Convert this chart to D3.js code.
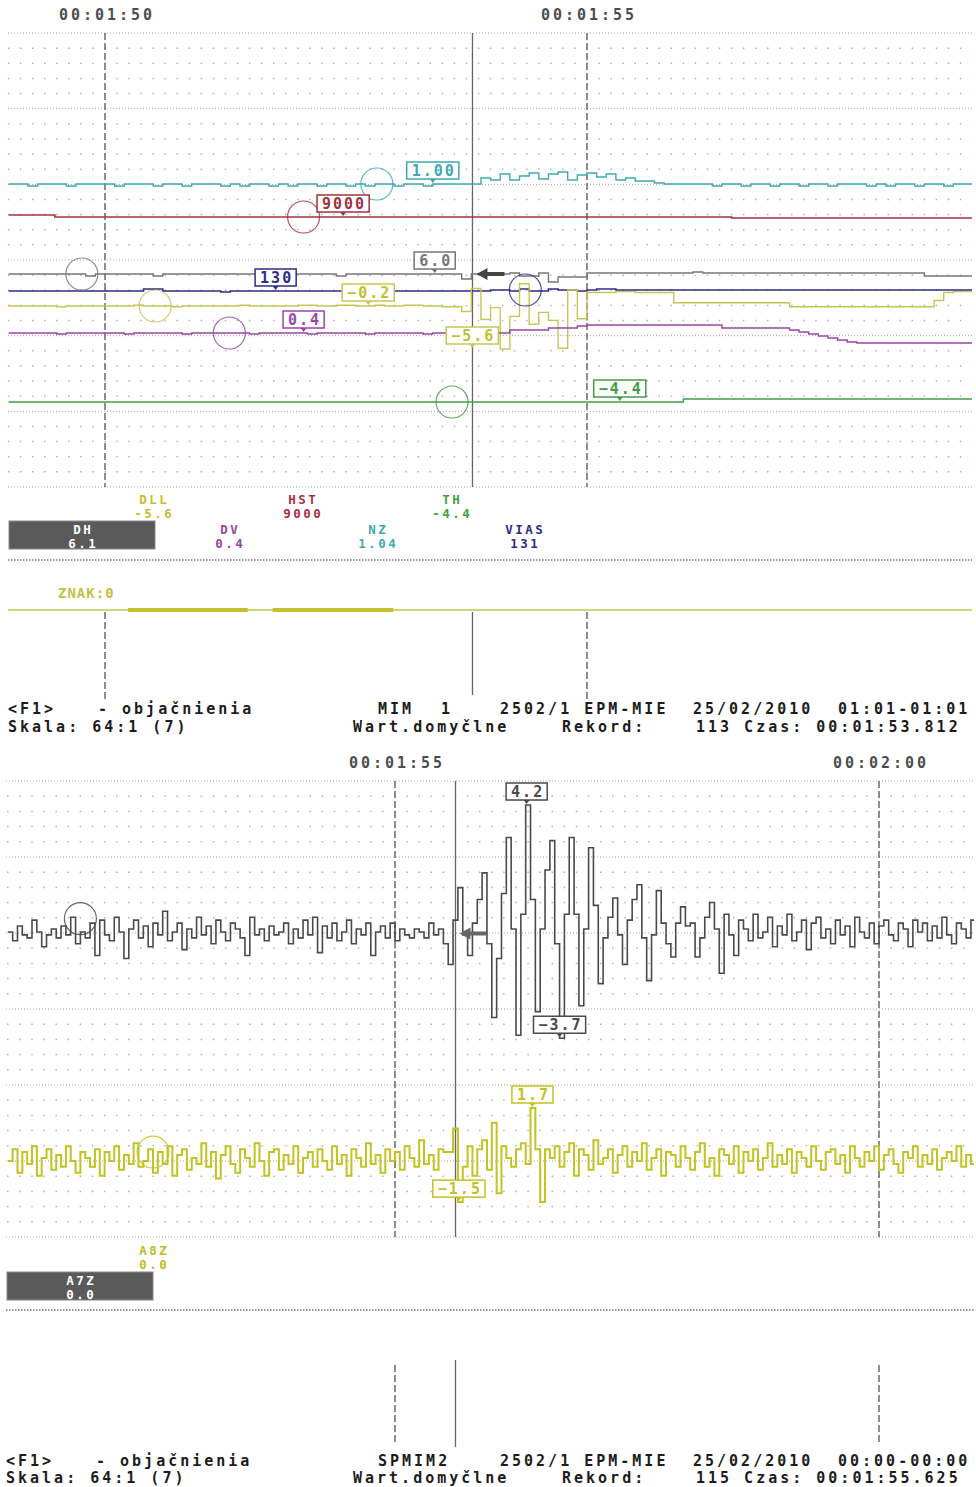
<!DOCTYPE html>
<html>
<head>
<meta charset="utf-8">
<script src="https://cdn.jsdelivr.net/npm/d3@7"></script>
<style>
  body { margin: 0; background: #fff; }
  svg { display: block; }
  text { font-family: "DejaVu Sans Mono", "Liberation Mono", monospace; font-weight: bold; }
</style>
</head>
<body>
<svg id="chart" width="976" height="1487"></svg>
<script>
// ---------- data ----------
const topTicks = [110, 115];
const bottomTicks = [115, 120];
const topCursor = 113.812;
const bottomCursor = 115.625;

// top panel, sampled every 0.1 s from 109.0 s
const topT0 = 109.0, topDt = 0.1;
const nzValues = [
  1.00,1.00,0.98,1.00,1.00,1.00,0.98,1.00,1.00,1.00,
  1.00,0.98,1.00,1.00,1.00,0.98,1.00,1.00,0.98,1.00,
  1.00,1.00,0.98,1.00,0.98,1.00,1.00,0.98,1.00,0.98,
  1.00,1.00,0.98,1.00,1.00,0.98,1.00,0.98,1.00,1.00,
  0.98,1.00,1.00,0.98,1.00,1.00,1.00,1.00,1.00,1.06,
  1.04,1.10,1.04,1.08,1.11,1.05,1.10,1.12,1.04,1.09,
  1.11,1.07,1.10,1.04,1.06,1.03,1.03,1.01,1.00,1.00,
  1.00,1.00,1.00,0.98,1.00,1.00,0.98,1.00,1.00,0.98,
  1.00,1.00,0.98,1.00,1.00,0.98,1.00,1.00,1.00,0.98,
  1.00,0.98,1.00,1.00,0.98,1.00,1.00,0.98,1.00,1.00,1.00
];
const dhValues = [
  6.0,6.0,6.0,6.0,6.0,6.0,6.0,6.0,5.8,6.0,
  6.0,6.0,6.0,6.0,6.0,5.8,6.0,6.0,6.0,6.0,
  6.0,6.0,6.0,6.0,6.0,6.0,5.8,6.0,6.0,6.0,
  6.0,6.0,6.0,6.0,5.8,6.0,6.0,6.0,6.0,6.0,
  6.0,6.0,6.0,6.0,6.0,6.0,6.0,5.5,6.0,6.0,
  5.9,6.0,6.1,5.8,5.8,6.1,5.2,5.7,5.7,5.7,
  6.1,6.1,6.1,6.1,6.1,6.1,6.1,6.1,6.1,6.1,
  6.1,6.2,6.1,6.1,6.1,6.1,6.1,6.1,6.1,6.1,
  6.1,6.1,6.1,6.1,6.1,6.1,6.1,6.1,6.1,6.1,
  6.1,6.1,6.1,6.1,6.1,5.8,5.8,5.8,5.8,5.8,5.8
];
const viasValues = [
  130,130,130,130,130,130,130,130,130,130,
  130,130,130,130,131,131,130,130,130,130,
  130,130,129.5,130,130,130,130,130,130,130,
  130,130,130,130,130,130,130,130,130,130,
  130,130,130,130,130,130,130,130,130,130,
  130.5,130.5,130,131,130,130,131,130.5,130.5,130,
  130.5,131,131,130.5,130.5,130.5,130.5,130.5,130.5,130.5,
  130.5,130.5,130.5,130.5,130.5,130.5,130.5,130.5,130.5,130.5,
  130.5,130.5,130.5,130.5,130.5,130.5,130.5,130.5,130.5,130.5,
  130.5,130.5,130.5,130.5,130.5,130.5,130.5,130.5,130.5,130.5,130.5
];
const dllValues = [
  -0.2,-0.2,-0.2,-0.2,-0.2,-0.3,-0.2,-0.2,-0.2,-0.2,
  -0.2,-0.2,-0.2,-0.1,-0.2,-0.2,-0.2,-0.3,-0.2,-0.2,
  -0.2,-0.2,-0.2,-0.2,-0.1,-0.2,-0.2,-0.2,-0.2,-0.2,
  -0.1,-0.1,-0.2,-0.2,-0.1,-0.1,-0.2,-0.2,-0.1,-0.2,
  -0.2,-0.1,-0.1,-0.2,-0.2,-0.3,-0.3,-0.9,2.0,-1.9,
  -0.4,-5.6,-1.5,2.6,-2.5,-1.0,-2.0,-5.5,1.8,-1.8,
  1.5,1.5,1.5,1.6,1.6,1.5,1.5,1.5,1.5,0.2,
  0.2,0.2,0.2,0.2,0.2,0.2,0.2,0.2,0.2,0.2,
  0.2,-0.3,-0.3,-0.3,-0.3,-0.3,-0.3,-0.3,-0.3,-0.3,
  -0.3,-0.3,-0.3,-0.3,-0.3,-0.3,0.5,1.5,1.6,1.6,1.6
];
const dvValues = [
  0.4,0.4,0.4,0.4,0.4,0.3,0.4,0.4,0.4,0.4,
  0.4,0.4,0.3,0.4,0.4,0.4,0.4,0.4,0.3,0.4,
  0.4,0.4,0.4,0.4,0.4,0.3,0.4,0.4,0.4,0.4,
  0.4,0.3,0.4,0.4,0.4,0.4,0.4,0.3,0.4,0.4,
  0.4,0.4,0.4,0.3,0.4,0.4,0.4,0.4,0.4,0.4,
  0.4,0.4,0.7,0.7,0.7,0.7,0.9,0.9,0.9,1.1,
  1.2,1.2,1.2,1.2,1.2,1.2,1.2,1.2,1.2,1.2,
  1.2,1.2,1.2,1.2,0.9,0.9,0.9,0.9,0.9,0.9,
  0.9,0.7,0.5,0.3,0.1,-0.1,-0.3,-0.5,-0.6,-0.6,
  -0.6,-0.6,-0.6,-0.6,-0.6,-0.6,-0.6,-0.6,-0.6,-0.6,-0.6
];
// change-point channels
const hstTimes = [109.0, 109.48, 116.5, 119.0];
const hstValues = [9020, 9000, 8990, 8990];
const thTimes = [109.0, 116.0, 119.0];
const thValues = [-4.4, -4.1, -4.1];
// ZNAK on-periods
const znakStart = [110.24, 111.74];
const znakEnd = [111.48, 112.99];

// bottom panel, sampled every 0.05 s from 111.0 s
const botT0 = 111.0, botDt = 0.05;
const a7zValues = [
  -0.1,-0.4,0.1,-0.2,-0.3,0.3,-0.1,-0.6,-0.2,0.0,
  -0.3,0.1,-0.2,0.4,-0.5,-0.1,-0.3,0.2,-0.9,0.3,
  -0.2,-0.4,0.4,-0.1,-1.0,0.0,0.3,-0.3,0.1,-0.6,
  0.2,-0.2,0.6,-0.4,-0.1,0.2,-0.7,0.0,-0.3,0.4,
  -0.2,0.1,-0.5,0.3,-0.1,-0.4,0.2,0.0,-0.3,-0.9,
  0.4,-0.2,0.0,-0.4,0.1,-0.2,-0.1,0.2,-0.5,0.0,
  -0.3,0.3,-0.2,0.4,-0.8,0.1,-0.3,0.2,-0.4,-0.1,
  0.3,-0.5,0.0,-0.2,0.2,-0.9,-0.1,0.1,-0.3,0.2,
  -0.4,0.0,-0.2,-0.3,0.0,-0.1,-0.3,0.2,-0.2,0.0,
  -0.5,
  -1.2,0.3,1.4,-0.2,-0.9,0.2,1.0,1.9,-0.5,
  -3.0,-1.0,1.2,3.1,0.0,-3.6,0.5,4.2,1.0,-2.8,
  0.0,2.0,3.0,-0.5,-3.7,0.5,3.1,0.5,-2.6,0.0,
  2.75,0.8,-1.85,-0.3,0.4,1.05,-0.2,-1.2,0.3,1.0,
  1.5,-0.3,-1.75,-0.2,1.3,0.2,-0.5,-0.95,0.2,0.75,
  0.1,
  0.2,-0.95,-0.3,0.4,0.9,0.0,-1.5,0.5,-0.2,-0.9,
  0.3,0.0,-0.4,0.5,-0.3,-0.1,0.4,-0.6,0.1,-0.2,
  0.5,-0.4,-0.1,0.3,-0.7,0.2,0.4,-0.3,0.0,-0.5,
  0.3,-0.2,0.1,-0.6,0.4,-0.1,-0.3,0.2,-0.5,0.1,
  0.3,-0.2,-0.4,0.2,0.0,-0.6,0.3,-0.1,0.2,-0.4,
  0.1,-0.3,0.4,-0.2,-0.5,0.2,0.0,-0.3,0.3,-0.1
];
const a8zValues = [
  -0.1,0.3,-0.5,0.2,-0.2,0.4,-0.6,0.0,0.3,-0.4,
  0.1,-0.3,0.4,-0.1,-0.5,0.2,0.0,-0.3,0.3,-0.6,
  0.2,-0.1,0.4,-0.4,0.1,-0.2,0.5,-0.3,-0.1,0.3,
  -0.5,0.2,-0.2,0.4,-0.6,0.1,0.3,-0.4,0.0,-0.2,
  0.5,-0.3,0.2,-0.7,0.1,0.4,-0.2,-0.5,0.3,0.0,
  -0.3,0.5,-0.1,-0.6,0.2,0.3,-0.4,0.1,-0.2,0.4,
  -0.5,0.0,0.2,-0.3,0.3,-0.1,-0.4,0.4,-0.2,0.1,
  -0.6,0.3,0.0,-0.3,0.5,-0.2,0.1,-0.5,0.3,-0.1,
  0.2,-0.4,0.4,0.0,-0.3,0.6,-0.2,0.1,-0.4,0.3,
  0.2,
  0.2,1.0,-1.5,-0.3,0.4,-0.6,0.3,0.6,-0.4,
  1.2,-1.2,0.4,0.0,-0.3,0.3,0.5,-0.2,1.7,0.3,
  -1.5,0.3,0.0,0.4,-0.3,0.2,0.5,-0.6,0.3,0.1,
  -0.4,0.6,-0.2,0.0,0.3,-0.5,0.1,0.4,-0.3,0.2,
  -0.1,0.5,-0.4,0.0,0.3,-0.6,0.2,0.1,-0.3,0.4,
  0.0,
  -0.4,0.2,0.5,-0.3,0.0,-0.6,0.3,0.1,-0.2,0.4,
  -0.5,0.2,-0.1,0.3,-0.4,0.0,0.5,-0.3,0.1,-0.2,
  0.3,-0.5,0.2,0.0,-0.3,0.4,-0.1,-0.4,0.2,0.3,
  -0.2,0.1,-0.5,0.4,0.0,-0.3,0.2,-0.1,0.4,-0.4,
  0.1,0.3,-0.2,-0.5,0.2,0.0,0.4,-0.3,0.1,-0.2,
  0.3,-0.4,0.0,0.2,-0.1,0.4,-0.3,0.1,-0.2,0.2
];

// legends (name / value at cursor)
const topLegendNames = ['DLL', 'HST', 'TH', 'DH', 'DV', 'NZ', 'VIAS'];
const topLegendValues = ['-5.6', '9000', '-4.4', '6.1', '0.4', '1.04', '131'];
const botLegendNames = ['A8Z', 'A7Z'];
const botLegendValues = ['0.0', '0.0'];

// value flags and rings
const topMarkers = [
  { ch: 'NZ', t: 113.40, v: 1.00 }, { ch: 'HST', t: 112.47, v: 9000 },
  { ch: 'VIAS', t: 111.77, v: 130 }, { ch: 'DH', t: 113.42, v: 6.0 },
  { ch: 'DLL', t: 112.73, v: -0.2 }, { ch: 'DV', t: 112.06, v: 0.4 },
  { ch: 'DLL', t: 113.81, v: -5.6 }, { ch: 'TH', t: 115.34, v: -4.4 }
];
const botMarkers = [
  { ch: 'A7Z', t: 116.36, v: 4.2 }, { ch: 'A7Z', t: 116.70, v: -3.7 },
  { ch: 'A8Z', t: 116.42, v: 1.7 }, { ch: 'A8Z', t: 115.66, v: -1.5 }
];
const topRings = [
  { ch: 'DH', t: 109.76, v: 6.0 }, { ch: 'HST', t: 112.06, v: 9000 },
  { ch: 'NZ', t: 112.82, v: 1.00 }, { ch: 'DLL', t: 110.52, v: -0.2 },
  { ch: 'DV', t: 111.29, v: 0.4 }, { ch: 'VIAS', t: 114.36, v: 130.5 },
  { ch: 'TH', t: 113.60, v: -4.4 }
];
const botRings = [
  { ch: 'A7Z', t: 111.75, v: 0.35 }, { ch: 'A8Z', t: 112.50, v: 0.2 }
];

const footerTop = [
  ['<F1>', '- objačnienia', 'MIM', '1', '2502/1 EPM-MIE', '25/02/2010', '01:01-01:01'],
  ['Skala: 64:1 (7)', 'Wart.domyčlne', 'Rekord:', '113 Czas: 00:01:53.812']
];
const footerBottom = [
  ['<F1>', '- objačnienia', 'SPMIM2', '2502/1 EPM-MIE', '25/02/2010', '00:00-00:00'],
  ['Skala: 64:1 (7)', 'Wart.domyčlne', 'Rekord:', '115 Czas: 00:01:55.625']
];

// ---------- helpers ----------
const sampled = (t0, dt, values) => values.map((v, i) => ({ t: t0 + i * dt, v }));
const changes = (times, values) => times.map((t, i) => ({ t, v: values[i] }));
const fmtTime = t => d3.utcFormat('%H:%M:%S')(new Date(Math.round(t * 1000)));

const svg = d3.select('#chart');
const gridColor = '#bfaeae';

const colors = {
  NZ: '#3fa9b3', HST: '#a3323f', DH: '#777777', VIAS: '#2d2d85',
  DLL: '#c6c655', DV: '#9a45a5', TH: '#449c44', A7Z: '#4a4a4a', A8Z: '#c2c222'
};
const textColors = Object.assign({}, colors, { DLL: '#c2c030', A8Z: '#bdbd20', DH: '#ffffff', A7Z: '#ffffff' });
const fmt = { NZ: d3.format('.2f'), HST: d3.format('d'), VIAS: d3.format('d') };
const fmtVal = (ch, v) => (fmt[ch] || d3.format('.1f'))(v);

function txt(g, str, x, y, size, color, spacing, anchor) {
  return g.append('text')
    .attr('x', x + (anchor === 'middle' ? spacing / 2 : 0)).attr('y', y)
    .attr('font-size', size).attr('letter-spacing', spacing)
    .attr('text-anchor', anchor || 'start')
    .attr('fill', color).text(str);
}

function drawPanel(cfg) {
  const g = svg.append('g');
  const x = d3.scaleLinear().domain(cfg.domain).range(cfg.xRange);
  const [left, right] = cfg.clip;
  const clipId = 'clip' + cfg.id;
  svg.append('clipPath').attr('id', clipId).append('rect')
    .attr('x', left).attr('y', cfg.gridTop - 30).attr('width', right - left).attr('height', cfg.gridBottom - cfg.gridTop + 60);

  // time labels
  const ax = g.append('g').attr('transform', `translate(1.5,${cfg.labelY})`)
    .call(d3.axisTop(x).tickValues(cfg.ticks).tickFormat(fmtTime).tickSize(0).tickPadding(0));
  ax.select('.domain').remove();
  ax.selectAll('text').attr('font-size', 15).attr('letter-spacing', 3).attr('fill', '#4d4d4d')
    .attr('font-family', '"DejaVu Sans Mono", monospace').attr('font-weight', 'bold').attr('dy', 0);

  // dotted grid
  const rowY = d3.scaleLinear().domain([0, 30]).range([cfg.gridTop, cfg.gridBottom]);
  const step = x(cfg.domain[0] + 0.125) - x(cfg.domain[0]);
  g.append('g').selectAll('line').data(d3.range(31)).join('line')
    .attr('x1', d => d % 5 === 0 ? left : x(cfg.domain[0]) - 0.75)
    .attr('x2', right)
    .attr('y1', d => rowY(d)).attr('y2', d => rowY(d))
    .attr('stroke', d => d % 5 === 0 ? '#b0a0a0' : gridColor)
    .attr('stroke-width', d => d % 5 === 0 ? 1 : 1.5)
    .attr('stroke-dasharray', d => d % 5 === 0 ? '1,2' : `1.5,${step - 1.5}`);

  // 5 s dashed lines and cursor
  const vg = g.append('g');
  cfg.ticks.forEach(t => {
    [[cfg.gridTop, cfg.gridBottom], cfg.lowerDash].forEach(([y1, y2]) => {
      vg.append('line').attr('x1', x(t)).attr('x2', x(t)).attr('y1', y1).attr('y2', y2)
        .attr('stroke', '#6a6a6a').attr('stroke-width', 1.5).attr('stroke-dasharray', '7,3');
    });
  });
  [[cfg.gridTop, cfg.gridBottom], cfg.lowerCursor].forEach(([y1, y2]) => {
    vg.append('line').attr('x1', x(cfg.cursor)).attr('x2', x(cfg.cursor)).attr('y1', y1).attr('y2', y2)
      .attr('stroke', '#666').attr('stroke-width', 1.3);
  });

  // channels
  const plot = g.append('g').attr('clip-path', `url(#${clipId})`);
  const chMap = {};
  cfg.channels.forEach(c => { chMap[c.name] = c; });
  cfg.channels.forEach(c => {
    const line = d3.line().x(d => x(d.t)).y(d => c.y(d.v)).curve(d3.curveStepAfter);
    plot.append('path').datum(c.data)
      .attr('fill', 'none').attr('stroke', colors[c.name])
      .attr('stroke-width', c.width || 1.4).attr('d', line);
  });

  // rings
  plot.selectAll('circle.ring').data(cfg.rings).join('circle')
    .attr('cx', d => x(d.t)).attr('cy', d => chMap[d.ch].y(d.v)).attr('r', 16)
    .attr('fill', 'none').attr('stroke', d => colors[d.ch]).attr('stroke-width', 1.2).attr('opacity', 0.85);

  // arrow at cursor
  const a = cfg.arrow;
  const ax0 = x(cfg.cursor) + 4, ay = chMap[a.ch].y(a.v);
  g.append('path')
    .attr('d', `M${ax0},${ay} L${ax0 + 11},${ay - 6} L${ax0 + 11},${ay - 2} L${ax0 + 28},${ay - 2} L${ax0 + 28},${ay + 2} L${ax0 + 11},${ay + 2} L${ax0 + 11},${ay + 6} Z`)
    .attr('fill', a.color);

  // value flags
  cfg.markers.forEach(m => {
    const c = chMap[m.ch];
    const px = x(m.t), py = c.y(m.v);
    const bottom = py - 5, top = bottom - 17;
    const mg = g.append('g');
    const rect = mg.append('rect').attr('y', top).attr('height', 17)
      .attr('fill', '#fff').attr('stroke', colors[m.ch]).attr('stroke-width', 1.5);
    const t = txt(mg, fmtVal(m.ch, m.v), px, bottom - 3, 15, colors[m.ch] === '#c6c655' ? '#c2c030' : colors[m.ch], 2, 'middle');
    const w = t.node().getComputedTextLength() + 8;
    rect.attr('x', px - w / 2).attr('width', w);
    mg.append('path').attr('d', `M${px - 3},${bottom} L${px + 3},${bottom} L${px},${bottom + 4} Z`)
      .attr('fill', colors[m.ch]);
  });

  // legend
  const lg = g.append('g');
  cfg.legendNames.forEach((n, i) => {
    const [lx, ly] = cfg.legendSlots[n];
    if (n === cfg.legendHighlight) {
      lg.append('rect').attr('x', lx - 73).attr('y', ly - 13).attr('width', 146).attr('height', 28)
        .attr('fill', '#5a5a5a').attr('stroke', '#888').attr('stroke-width', 1);
    }
    txt(lg, n, lx, ly, 12.5, textColors[n], 2.5, 'middle');
    txt(lg, cfg.legendValues[i], lx, ly + 14, 12.5, textColors[n], 2.5, 'middle');
  });

  // separator
  g.append('line').attr('x1', left).attr('x2', right).attr('y1', cfg.sepY).attr('y2', cfg.sepY)
    .attr('stroke', '#777').attr('stroke-width', 1.6).attr('stroke-dasharray', '1.5,1.5');

  // footer
  cfg.footer.forEach((row, r) => {
    row.forEach((s, i) => txt(g, s, cfg.footerX[r][i], cfg.footerY[r], 15, '#1c1c1c', 3));
  });
  return { g, x };
}

// ---------- top panel ----------
const topPanel = drawPanel({
  id: 'top', domain: [109, 119], xRange: [8.6, 972.6], clip: [8, 972],
  labelY: 20, gridTop: 33, gridBottom: 487, ticks: topTicks, cursor: topCursor,
  lowerDash: [612, 700], lowerCursor: [612, 695],
  channels: [
    { name: 'NZ', data: sampled(topT0, topDt, nzValues), y: d3.scaleLinear().domain([1.0, 1.12]).range([184, 172]) },
    { name: 'HST', data: changes(hstTimes, hstValues), y: d3.scaleLinear().domain([9000, 9020]).range([217, 215]), width: 1.6 },
    { name: 'DH', data: sampled(topT0, topDt, dhValues), y: d3.scaleLinear().domain([6.0, 5.0]).range([274, 284]) },
    { name: 'VIAS', data: sampled(topT0, topDt, viasValues), y: d3.scaleLinear().domain([130, 131]).range([291, 289]), width: 1.6 },
    { name: 'DLL', data: sampled(topT0, topDt, dllValues), y: d3.scaleLinear().domain([-0.2, -5.6]).range([306, 349]) },
    { name: 'DV', data: sampled(topT0, topDt, dvValues), y: d3.scaleLinear().domain([0.4, -0.6]).range([333, 343]) },
    { name: 'TH', data: changes(thTimes, thValues), y: d3.scaleLinear().domain([-4.4, -4.1]).range([402, 399]) }
  ],
  rings: topRings, markers: topMarkers,
  arrow: { ch: 'DH', v: 6.0, color: '#444' },
  legendNames: topLegendNames, legendValues: topLegendValues, legendHighlight: 'DH',
  legendSlots: { DLL: [153, 504], HST: [302, 504], TH: [451, 504], DH: [82, 534], DV: [229, 534], NZ: [377, 534], VIAS: [524, 534] },
  sepY: 560,
  footer: footerTop,
  footerX: [[8, 98, 378, 441, 500, 693, 838], [8, 353, 562, 696]],
  footerY: [714, 732]
});

// ZNAK strip
txt(topPanel.g, 'ZNAK:0', 58, 598, 14, '#c4bf45', 1);
topPanel.g.append('line').attr('x1', 8).attr('x2', 972).attr('y1', 610).attr('y2', 610)
  .attr('stroke', '#c8c448').attr('stroke-width', 1.5);
topPanel.g.selectAll('rect.znak').data(znakStart).join('rect')
  .attr('x', d => topPanel.x(d)).attr('width', (d, i) => topPanel.x(znakEnd[i]) - topPanel.x(d))
  .attr('y', 608).attr('height', 4).attr('fill', '#c4c030');

// ---------- bottom panel ----------
drawPanel({
  id: 'bot', domain: [111, 121], xRange: [7.8, 975.8], clip: [6, 974],
  labelY: 768, gridTop: 781, gridBottom: 1237, ticks: bottomTicks, cursor: bottomCursor,
  lowerDash: [1365, 1445], lowerCursor: [1360, 1447],
  channels: [
    { name: 'A7Z', data: sampled(botT0, botDt, a7zValues), y: d3.scaleLinear().domain([0, 4.2]).range([929, 805]), width: 1.6 },
    { name: 'A8Z', data: sampled(botT0, botDt, a8zValues), y: d3.scaleLinear().domain([0, 1.7]).range([1158, 1108]), width: 2 }
  ],
  rings: botRings, markers: botMarkers,
  arrow: { ch: 'A7Z', v: -0.15, color: '#666' },
  legendNames: botLegendNames, legendValues: botLegendValues, legendHighlight: 'A7Z',
  legendSlots: { A8Z: [153, 1255], A7Z: [80, 1285] },
  sepY: 1310,
  footer: footerBottom,
  footerX: [[6, 96, 378, 500, 693, 838], [6, 353, 562, 696]],
  footerY: [1466, 1483]
});
</script>
</body>
</html>
